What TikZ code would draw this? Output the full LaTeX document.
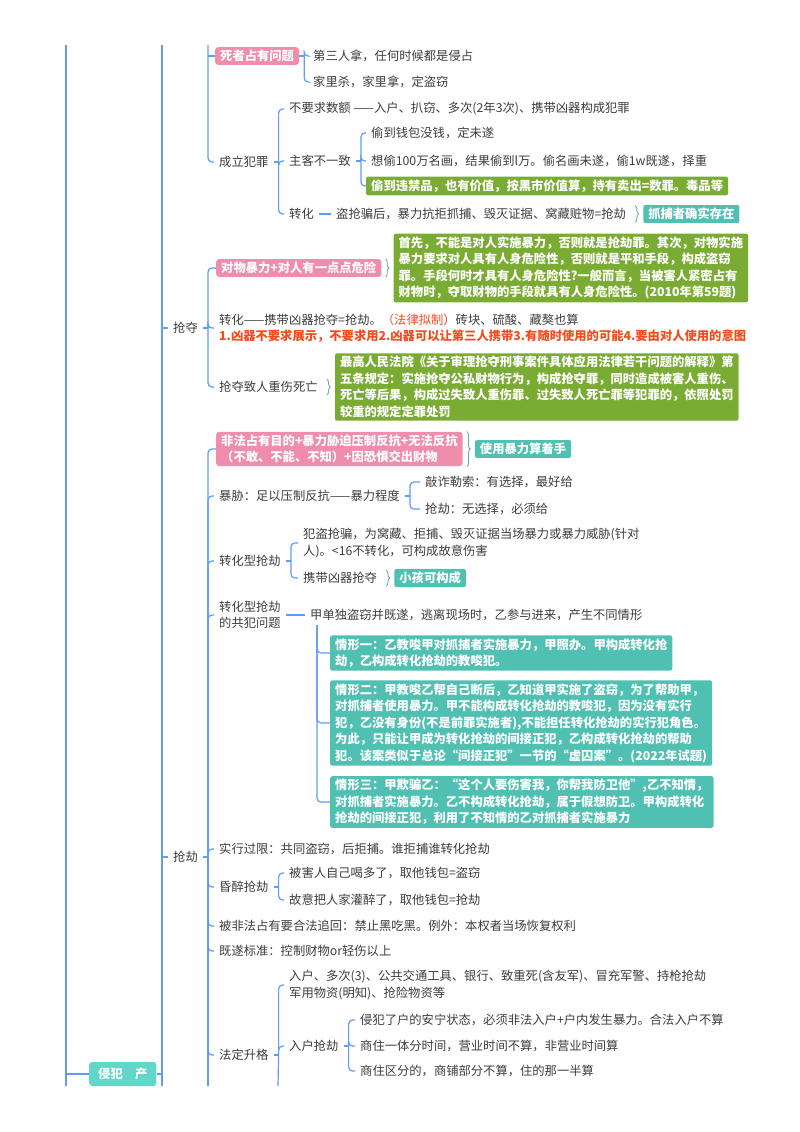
\documentclass[tikz,border=0pt]{standalone}
\usepackage{fontspec}
\setmainfont{Noto Sans CJK SC}
\usepackage{tikz}
\usetikzlibrary{positioning, decorations.pathreplacing}

\definecolor{linkblue}{RGB}{96,155,250}
\definecolor{pinkfill}{RGB}{240,140,172}
\definecolor{olivefill}{RGB}{122,172,52}
\definecolor{tealfill}{RGB}{80,192,178}
\definecolor{rootfill}{RGB}{98,214,200}
\definecolor{txtgray}{RGB}{60,60,60}
\definecolor{redtext}{RGB}{245,75,30}
\definecolor{bracecol}{RGB}{90,170,175}

\newcommand{\mapfont}{\fontsize{12.3}{16.5}\selectfont}

\begin{document}
\begin{tikzpicture}[
  x=1pt, y=-1pt,
  font=\mapfont,
  branch/.style={draw=linkblue, line width=1.2pt, rounded corners=4pt},
  txt/.style={text=txtgray, anchor=west, align=left, inner xsep=5pt, inner ysep=2pt},
  pinkbox/.style={fill=pinkfill, text=white, font=\mapfont\bfseries, anchor=west, align=left, rounded corners=3pt, inner xsep=5pt, inner ysep=3pt},
  olivebox/.style={pinkbox, fill=olivefill, rounded corners=2pt},
  tealbox/.style={pinkbox, fill=tealfill, rounded corners=2pt},
  rootbox/.style={pinkbox, fill=rootfill, inner xsep=9pt, minimum height=24pt},
  sumbrace/.style={draw=bracecol, line width=0.8pt, decorate, decoration={brace, amplitude=3.5pt, raise=4pt}}
]
  \useasboundingbox (0,0) rectangle (800,1132);
  \coordinate (l0top) at (66,45);
  \coordinate (l0bot) at (66,1086);
  \coordinate (l1top) at (162,45);
  \coordinate (l1bot) at (162,1086);
  \coordinate (l2top) at (208,45);
  \coordinate (qjend) at (208,1086);
  \coordinate (fdend) at (278,1086);

  \draw[branch] (l0top) -- (l0bot);
  \draw[branch] (l1top) -- (l1bot);
  \node[rootbox] (qf) at (89,1074) {侵犯\hspace{1em}产};
  \draw[branch] (l0top |- qf.west) -- (qf.west);
  \draw[branch] (qf.east) -- (l1top |- qf.east);

  \node[pinkbox] (sz) at (215,56) {死者占有问题};
  \node[txt] (sz1) at (308,56) {第三人拿，任何时候都是侵占};
  \node[txt] (sz2) at (308,82) {家里杀，家里拿，定盗窃};
  \node[txt] (cl) at (214,162) {成立犯罪};
  \node[txt] (cl1) at (284,109) {不要求数额 ——入户、扒窃、多次(2年3次)、携带凶器构成犯罪};
  \node[txt] (zk) at (284,161) {主客不一致};
  \node[txt] (zk1) at (366,133) {偷到钱包没钱，定未遂};
  \node[txt] (zk2) at (366,161) {想偷100万名画，结果偷到l万。偷名画未遂，偷1w既遂，择重};
  \node[olivebox] (zk3) at (366,186) {偷到违禁品，也有价值，按黑市价值算，持有卖出=数罪。毒品等};
  \node[txt] (zh) at (284,214) {转化};
  \node[txt] (zh1) at (331,214) {盗抢骗后，暴力抗拒抓捕、毁灭证据、窝藏赃物=抢劫};
  \node[tealbox, right=12pt of zh1] (zh2) {抓捕者确实存在};

  \draw[branch] (l2top |- sz.west) -- (sz.west);
  \draw[branch] (l2top) |- (cl.west);
  \draw[branch] (sz.east) -- ++(5,0);
  \foreach \c in {sz1, sz2} \draw[branch] ([xshift=5pt]sz.east) |- (\c.west);
  \draw[branch] (cl.east) -- ++(5,0);
  \foreach \c in {cl1, zk, zh} \draw[branch] ([xshift=5pt]cl.east) |- (\c.west);
  \draw[branch] (zk.east) -- ++(5,0);
  \foreach \c in {zk1, zk2, zk3} \draw[branch] ([xshift=5pt]zk.east) |- (\c.west);
  \draw[branch] (zh.east) -- (zh1.west);
  \draw[sumbrace] (zh1.north east) -- (zh1.south east);

  \node[txt] (qd) at (168,328) {抢夺};
  \node[pinkbox] (wb) at (216,268) {对物暴力+对人有一点点危险};
  \node[olivebox, right=12pt of wb] (wb1) {首先，不能是对人实施暴力，否则就是抢劫罪。其次，对物实施\\
    暴力要求对人具有人身危险性，否则就是平和手段，构成盗窃\\
    罪。手段何时才具有人身危险性?一般而言，当被害人紧密占有\\
    财物时，夺取财物的手段就具有人身危险性。(2010年第59题)};
  \node[txt] (zh3) at (214,328) {转化——携带凶器抢夺=抢劫。\textcolor{redtext}{（法律拟制）}砖块、硫酸、藏獒也算\\
    \textcolor{redtext}{\bfseries 1.凶器不要求展示，不要求用2.凶器可以让第三人携带3.有随时使用的可能4.要由对人使用的意图}};
  \node[txt] (qs) at (214,387) {抢夺致人重伤死亡};
  \node[olivebox, right=12pt of qs] (qs1) {最高人民法院《关于审理抢夺刑事案件具体应用法律若干问题的解释》第\\
    五条规定：实施抢夺公私财物行为，构成抢夺罪，同时造成被害人重伤、\\
    死亡等后果，构成过失致人重伤罪、过失致人死亡罪等犯罪的，依照处罚\\
    较重的规定定罪处罚};

  \draw[branch] (l1top |- qd.west) -- (qd.west);
  \draw[branch] (qd.east) -- ++(5,0);
  \foreach \c in {wb, zh3, qs} \draw[branch] ([xshift=5pt]qd.east) |- (\c.west);
  \draw[sumbrace] (wb.north east) -- (wb.south east);
  \draw[sumbrace] (qs.north east) -- (qs.south east);

  \node[txt] (qj) at (168,857) {抢劫};
  \node[pinkbox] (fz) at (216,449) {非法占有目的+暴力胁迫压制反抗+无法反抗\\
    （不敢、不能、不知）+因恐惧交出财物};
  \node[tealbox, right=12pt of fz] (fz1) {使用暴力算着手};
  \node[txt] (bx) at (214,496) {暴胁：足以压制反抗——暴力程度};
  \node[txt] (bx1) at (420,482) {敲诈勒索：有选择，最好给};
  \node[txt] (bx2) at (420,509) {抢劫：无选择，必须给};
  \node[txt] (zx) at (214,561) {转化型抢劫};
  \node[txt] (zx1) at (298,543) {犯盗抢骗，为窝藏、拒捕、毁灭证据当场暴力或暴力威胁(针对\\
    人)。<16不转化，可构成故意伤害};
  \node[txt] (zx2) at (298,578) {携带凶器抢夺};
  \node[tealbox, right=12pt of zx2] (zx3) {小孩可构成};
  \node[txt] (gf) at (214,615) {转化型抢劫\\的共犯问题};
  \node[txt] (jd) at (305,615) {甲单独盗窃并既遂，逃离现场时，乙参与进来，产生不同情形};
  \node[tealbox] (q1) at (330,653) {情形一：乙教唆甲对抓捕者实施暴力，甲照办。甲构成转化抢\\
    劫，乙构成转化抢劫的教唆犯。};
  \node[tealbox] (q2) at (330,723) {情形二：甲教唆乙帮自己断后，乙知道甲实施了盗窃，为了帮助甲，\\
    对抓捕者使用暴力。甲不能构成转化抢劫的教唆犯，因为没有实行\\
    犯，乙没有身份(不是前罪实施者),不能担任转化抢劫的实行犯角色。\\
    为此，只能让甲成为转化抢劫的间接正犯，乙构成转化抢劫的帮助\\
    犯。该案类似于总论“间接正犯”一节的“虚囚案”。(2022年试题)};
  \node[tealbox] (q3) at (330,802) {情形三：甲欺骗乙：“这个人要伤害我，你帮我防卫他”,乙不知情，\\
    对抓捕者实施暴力。乙不构成转化抢劫，属于假想防卫。甲构成转化\\
    抢劫的间接正犯，利用了不知情的乙对抓捕者实施暴力};
  \node[txt] (sg) at (214,849) {实行过限：共同盗窃，后拒捕。谁拒捕谁转化抢劫};
  \node[txt] (hz) at (214,887) {昏醉抢劫};
  \node[txt] (hz1) at (284,873) {被害人自己喝多了，取他钱包=盗窃};
  \node[txt] (hz2) at (284,900) {故意把人家灌醉了，取他钱包=抢劫};
  \node[txt] (bf) at (214,926) {被非法占有要合法追回：禁止黑吃黑。例外：本权者当场恢复权利};
  \node[txt] (js) at (214,951) {既遂标准：控制财物or轻伤以上};
  \node[txt] (fd) at (214,1055) {法定升格};
  \node[txt] (fd1) at (284,985) {入户、多次(3)、公共交通工具、银行、致重死(含友军)、冒充军警、持枪抢劫\\
    军用物资(明知)、抢险物资等};
  \node[txt] (rh) at (284,1046) {入户抢劫};
  \node[txt] (rh1) at (355,1020) {侵犯了户的安宁状态，必须非法入户+户内发生暴力。合法入户不算};
  \node[txt] (rh2) at (355,1046) {商住一体分时间，营业时间不算，非营业时间算};
  \node[txt] (rh3) at (355,1071) {商住区分的，商铺部分不算，住的那一半算};

  \draw[branch] (l1top |- qj.west) -- (qj.west);
  \draw[branch] (qj.east) -- ++(5,0);
  \foreach \c in {fz, bx, zx, gf, sg, hz, bf, js, fd} \draw[branch] ([xshift=5pt]qj.east) |- (\c.west);
  \draw[branch] ([xshift=5pt]qj.east) -- (qjend);
  \draw[sumbrace] (fz.north east) -- (fz.south east);
  \draw[branch] (bx.east) -- ++(5,0);
  \foreach \c in {bx1, bx2} \draw[branch] ([xshift=5pt]bx.east) |- (\c.west);
  \draw[branch] (zx.east) -- ++(5,0);
  \foreach \c in {zx1, zx2} \draw[branch] ([xshift=5pt]zx.east) |- (\c.west);
  \draw[sumbrace] (zx2.north east) -- (zx2.south east);
  \draw[branch] (gf.east) -- (jd.west);
  \foreach \c in {q1, q2, q3} \draw[branch] ([xshift=12pt, yshift=-2pt]jd.south west) |- (\c.west);
  \draw[branch] (hz.east) -- ++(5,0);
  \foreach \c in {hz1, hz2} \draw[branch] ([xshift=5pt]hz.east) |- (\c.west);
  \draw[branch] (fd.east) -- ++(5,0);
  \foreach \c in {fd1, rh} \draw[branch] ([xshift=5pt]fd.east) |- (\c.west);
  \draw[branch] ([xshift=5pt]fd.east) -- (fdend);
  \draw[branch] (rh.east) -- ++(5,0);
  \foreach \c in {rh1, rh2, rh3} \draw[branch] ([xshift=5pt]rh.east) |- (\c.west);
\end{tikzpicture}
\end{document}
